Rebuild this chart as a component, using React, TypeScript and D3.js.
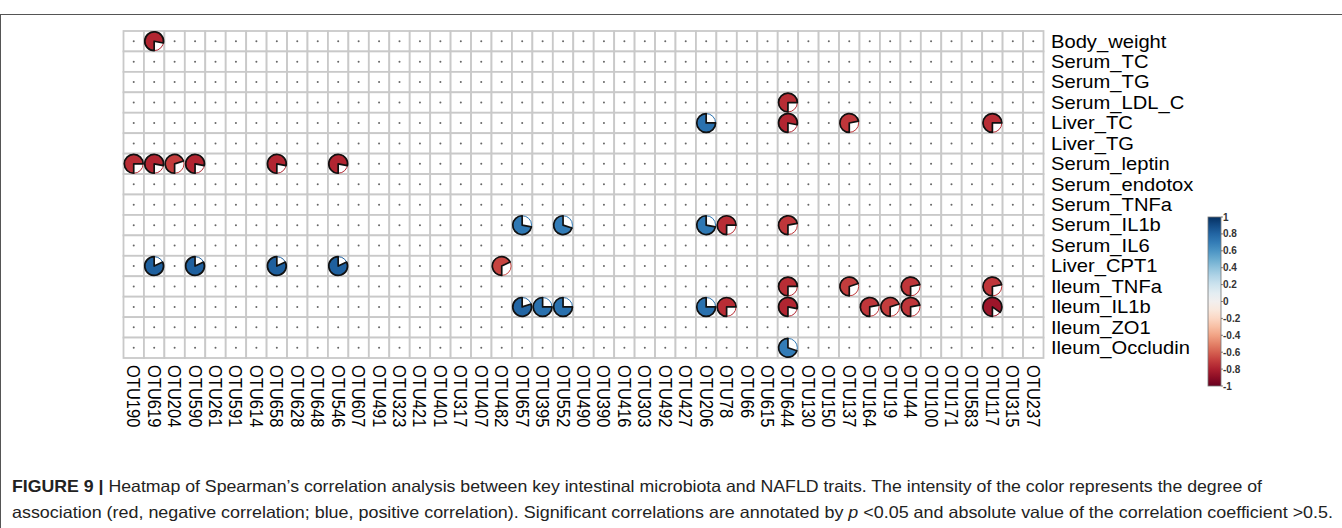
import * as d3 from "d3";
import React from "react";

// traits (rows) and OTUs (columns)
const traits = [
  "Body_weight", "Serum_TC", "Serum_TG", "Serum_LDL_C", "Liver_TC", "Liver_TG",
  "Serum_leptin", "Serum_endotox", "Serum_TNFa", "Serum_IL1b", "Serum_IL6",
  "Liver_CPT1", "Ileum_TNFa", "Ileum_IL1b", "Ileum_ZO1", "Ileum_Occludin",
];

const otus = [
  "OTU190", "OTU619", "OTU204", "OTU590", "OTU261", "OTU591", "OTU614", "OTU658",
  "OTU628", "OTU648", "OTU546", "OTU607", "OTU491", "OTU323", "OTU421", "OTU401",
  "OTU317", "OTU407", "OTU482", "OTU657", "OTU395", "OTU552", "OTU490", "OTU390",
  "OTU416", "OTU303", "OTU492", "OTU427", "OTU206", "OTU78", "OTU66", "OTU615",
  "OTU644", "OTU130", "OTU150", "OTU137", "OTU164", "OTU19", "OTU44", "OTU100",
  "OTU171", "OTU583", "OTU117", "OTU315", "OTU237",
];

// significant correlations only: [trait, otu, rho]
const significant: [string, string, number][] = [
  ["Body_weight", "OTU619", -0.78],
  ["Serum_LDL_C", "OTU644", -0.75],
  ["Liver_TC", "OTU206", 0.75],
  ["Liver_TC", "OTU644", -0.78],
  ["Liver_TC", "OTU137", -0.72],
  ["Liver_TC", "OTU117", -0.75],
  ["Serum_leptin", "OTU190", -0.75],
  ["Serum_leptin", "OTU619", -0.78],
  ["Serum_leptin", "OTU204", -0.7],
  ["Serum_leptin", "OTU590", -0.78],
  ["Serum_leptin", "OTU658", -0.78],
  ["Serum_leptin", "OTU546", -0.78],
  ["Serum_IL1b", "OTU657", 0.72],
  ["Serum_IL1b", "OTU552", 0.7],
  ["Serum_IL1b", "OTU206", 0.72],
  ["Serum_IL1b", "OTU78", -0.75],
  ["Serum_IL1b", "OTU644", -0.72],
  ["Liver_CPT1", "OTU619", 0.82],
  ["Liver_CPT1", "OTU590", 0.82],
  ["Liver_CPT1", "OTU658", 0.82],
  ["Liver_CPT1", "OTU546", 0.82],
  ["Liver_CPT1", "OTU482", -0.68],
  ["Ileum_TNFa", "OTU644", -0.75],
  ["Ileum_TNFa", "OTU137", -0.7],
  ["Ileum_TNFa", "OTU44", -0.72],
  ["Ileum_TNFa", "OTU117", -0.72],
  ["Ileum_IL1b", "OTU657", 0.8],
  ["Ileum_IL1b", "OTU395", 0.75],
  ["Ileum_IL1b", "OTU552", 0.75],
  ["Ileum_IL1b", "OTU206", 0.75],
  ["Ileum_IL1b", "OTU78", -0.75],
  ["Ileum_IL1b", "OTU644", -0.78],
  ["Ileum_IL1b", "OTU164", -0.72],
  ["Ileum_IL1b", "OTU19", -0.7],
  ["Ileum_IL1b", "OTU44", -0.72],
  ["Ileum_IL1b", "OTU117", -0.85],
  ["Ileum_Occludin", "OTU644", 0.7],
];

const legendTicks = [1, 0.8, 0.6, 0.4, 0.2, 0, -0.2, -0.4, -0.6, -0.8, -1];

const captionLine1 =
  " Heatmap of Spearman\u2019s correlation analysis between key intestinal microbiota and NAFLD traits. The intensity of the color represents the degree of";

export default function App() {
  const width = 1342;
  const height = 528;

  const x = d3.scaleBand().domain(otus).range([123.5, 1043.5]);
  const y = d3.scaleBand().domain(traits).range([31, 358]);
  const bw = x.bandwidth();
  const bh = y.bandwidth();
  const color = (v: number) => d3.interpolateRdBu((v + 1) / 2);
  const r = 9.4;

  const pieArc = (v: number) => {
    const a = Math.abs(v) * 2 * Math.PI;
    // negative: from 6 o'clock clockwise, positive: ends at 12 o'clock
    const start = v < 0 ? Math.PI : 2 * Math.PI - a;
    return d3.arc()({ innerRadius: 0, outerRadius: r, startAngle: start, endAngle: start + a } as any) as string;
  };

  const legY = d3.scaleLinear().domain([-1, 1]).range([386, 217]);
  const stops = d3.range(0, 1.0001, 0.05);

  return (
    <svg width={width} height={height} style={{ position: "absolute", left: 0, top: 0 }}
         fontFamily="'Liberation Sans', Arial, sans-serif">
      <rect x={0} y={0} width={width} height={height} fill="#fff" />
      <rect x={0.5} y={14.5} width={width + 5} height={height} fill="none" stroke="#555" strokeWidth={1} />

      {/* grid */}
      <g>
        {traits.map(t => otus.map(o => (
          <rect key={t + o} x={x(o)} y={y(t)} width={bw} height={bh}
                fill="#fff" stroke="#c9c9c9" strokeWidth={1.8} />
        )))}
        {traits.map(t => otus.map(o => (
          <circle key={"d" + t + o} cx={x(o)! + bw / 2} cy={y(t)! + bh / 2} r={1} fill="#666" />
        )))}
      </g>

      {/* pies */}
      <g>
        {significant.map(([t, o, v]) => {
          const cx = x(o)! + bw / 2;
          const cy = y(t)! + bh / 2;
          return (
            <g key={t + o} transform={`translate(${cx},${cy})`}>
              <circle r={r} fill="#fff" stroke={color(v)} strokeWidth={1} />
              <path d={pieArc(v)} fill={color(v)} stroke="#111" strokeWidth={1.7} strokeLinejoin="round" />
            </g>
          );
        })}
      </g>

      {/* row labels */}
      <g>
        {traits.map(t => (
          <text key={t} transform={`translate(1051,${y(t)! + bh / 2 + 6.3}) scale(1.12,1)`}
                fontSize={18} fill="#000">{t}</text>
        ))}
      </g>

      {/* column labels */}
      <g>
        {otus.map(o => (
          <text key={o} transform={`translate(${x(o)! + bw / 2 - 6.5},365) rotate(90) scale(1,1.08)`}
                fontSize={16.5} fill="#000">{o}</text>
        ))}
      </g>

      {/* colour legend */}
      <defs>
        <linearGradient id="cbar" x1="0" y1="1" x2="0" y2="0">
          {stops.map(s => (
            <stop key={s} offset={s} stopColor={d3.interpolateRdBu(s)} />
          ))}
        </linearGradient>
      </defs>
      <rect x={1208} y={legY(1)} width={13} height={legY(-1) - legY(1)} fill="url(#cbar)" stroke="#777" strokeWidth={0.8} />
      {legendTicks.map(v => (
        <g key={v}>
          <line x1={1221} x2={1223} y1={legY(v)} y2={legY(v)} stroke="#333" strokeWidth={0.6} />
          <text x={1223} y={legY(v) + 3.5} fontSize={10} fontWeight="bold" fill="#333">{v}</text>
        </g>
      ))}

      {/* caption */}
      <text x={12} y={492} fontSize={16.5} fill="#222" textLength={1250} lengthAdjust="spacingAndGlyphs">
        <tspan fontWeight="bold">FIGURE 9 |</tspan>{captionLine1}
      </text>
      <text x={12} y={518} fontSize={16.5} fill="#222" textLength={1321} lengthAdjust="spacingAndGlyphs">
        association (red, negative correlation; blue, positive correlation). Significant correlations are annotated by <tspan fontStyle="italic">p</tspan> &lt;0.05 and absolute value of the correlation coefficient &gt;0.5.
      </text>
    </svg>
  );
}
